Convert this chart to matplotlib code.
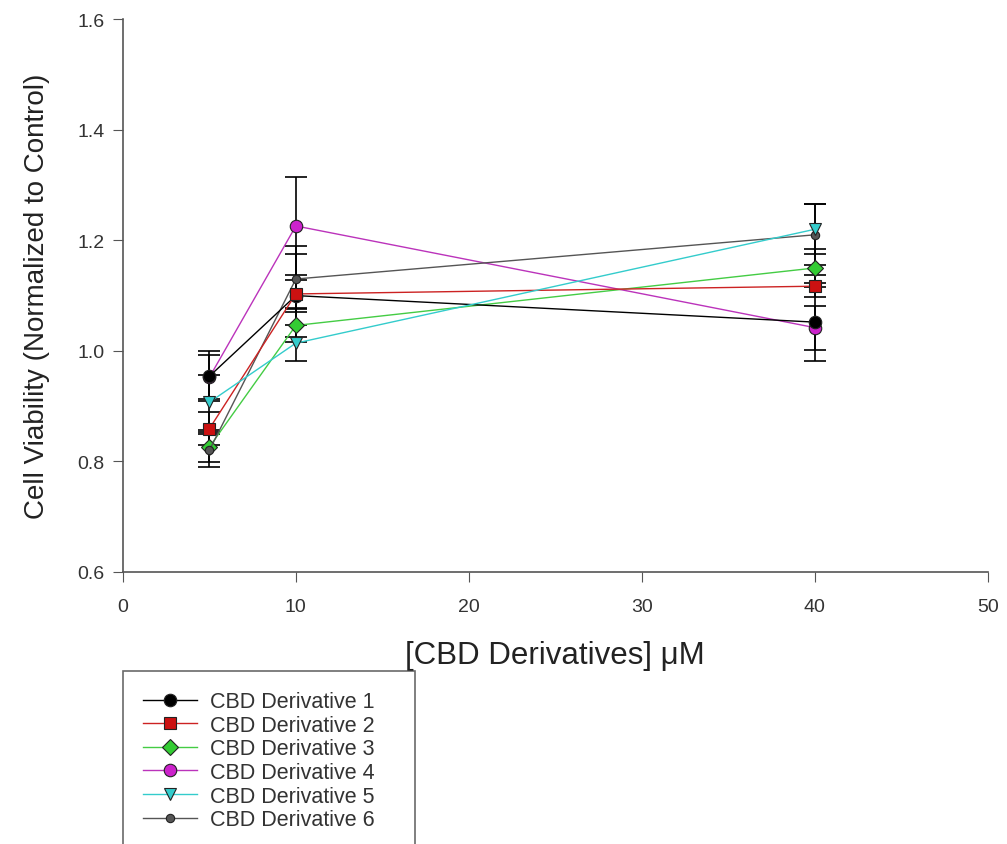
import matplotlib
matplotlib.use("Agg")
import matplotlib.pyplot as plt

plt.rcParams['font.family'] = ['Liberation Sans', 'DejaVu Sans']

conc = [5, 10, 40]
labels = ["CBD Derivative 1", "CBD Derivative 2", "CBD Derivative 3",
          "CBD Derivative 4", "CBD Derivative 5", "CBD Derivative 6"]
d1 = [0.954, 1.100, 1.052]
d2 = [0.859, 1.103, 1.117]
d3 = [0.826, 1.046, 1.150]
d4 = [0.952, 1.226, 1.042]
d5 = [0.907, 1.014, 1.220]
d6 = [0.820, 1.130, 1.210]
e1 = [0.045, 0.075, 0.070]
e2 = [0.030, 0.025, 0.020]
e3 = [0.028, 0.030, 0.035]
e4 = [0.040, 0.088, 0.040]
e5 = [0.050, 0.033, 0.045]
e6 = [0.030, 0.060, 0.055]

series = [d1, d2, d3, d4, d5, d6]
errs = [e1, e2, e3, e4, e5, e6]
line_colors = ["#000000", "#cc2222", "#44cc44", "#bb33bb", "#33cccc", "#555555"]
face_colors = ["#000000", "#cc1111", "#33cc33", "#cc22cc", "#33cccc", "#555555"]
markers = ["o", "s", "D", "o", "v", "o"]
msizes = [9, 8, 8, 9, 9, 6]
zorders = [3.5, 4, 3, 3, 4, 3]

fig = plt.figure(figsize=(10.07, 8.45), dpi=100)
ax = fig.add_axes([0.122, 0.322, 0.859, 0.654])

for y, e, lc, fc, m, ms, lab, z in zip(series, errs, line_colors, face_colors, markers, msizes, labels, zorders):
    ax.errorbar(conc, y, yerr=e, fmt="none", ecolor="black", elinewidth=1.2,
                capsize=8, capthick=1.2, zorder=2)
    ax.plot(conc, y, color=lc, linewidth=1.0, marker=m, markersize=ms,
            markerfacecolor=fc, markeredgecolor="#222222", markeredgewidth=0.8,
            label=lab, zorder=z)

ax.set_xlim(0, 50)
ax.set_ylim(0.6, 1.6)
ax.set_xticks([0, 10, 20, 30, 40, 50])
ax.set_yticks([0.6, 0.8, 1.0, 1.2, 1.4, 1.6])
ax.set_yticklabels(["0.6", "0.8", "1.0", "1.2", "1.4", "1.6"])
for s in ["top", "right"]:
    ax.spines[s].set_visible(False)
for s in ["left", "bottom"]:
    ax.spines[s].set_color("#555555")
    ax.spines[s].set_linewidth(1.2)
ax.tick_params(direction="out", length=7, color="#555555", labelsize=14,
               labelcolor="#333333")
ax.tick_params(axis="x", pad=12)
ax.tick_params(axis="y", pad=6)
ax.set_ylabel("Cell Viability (Normalized to Control)", fontsize=20, color="#222222", labelpad=20)
ax.set_xlabel("[CBD Derivatives] \u03bcM", fontsize=22.5, color="#222222", labelpad=18)

leg = fig.legend(loc="upper left", bbox_to_anchor=(0.122, 0.005, 0.290, 0.2), mode="expand",
                 fontsize=15.5, frameon=True, fancybox=False, edgecolor="#444444",
                 handlelength=2.5, handletextpad=0.6, labelspacing=0.12,
                 borderpad=0.95, borderaxespad=0)
leg.get_frame().set_linewidth(1.2)
for t in leg.get_texts():
    t.set_color("#333333")

fig.savefig("out.png", dpi=100)
